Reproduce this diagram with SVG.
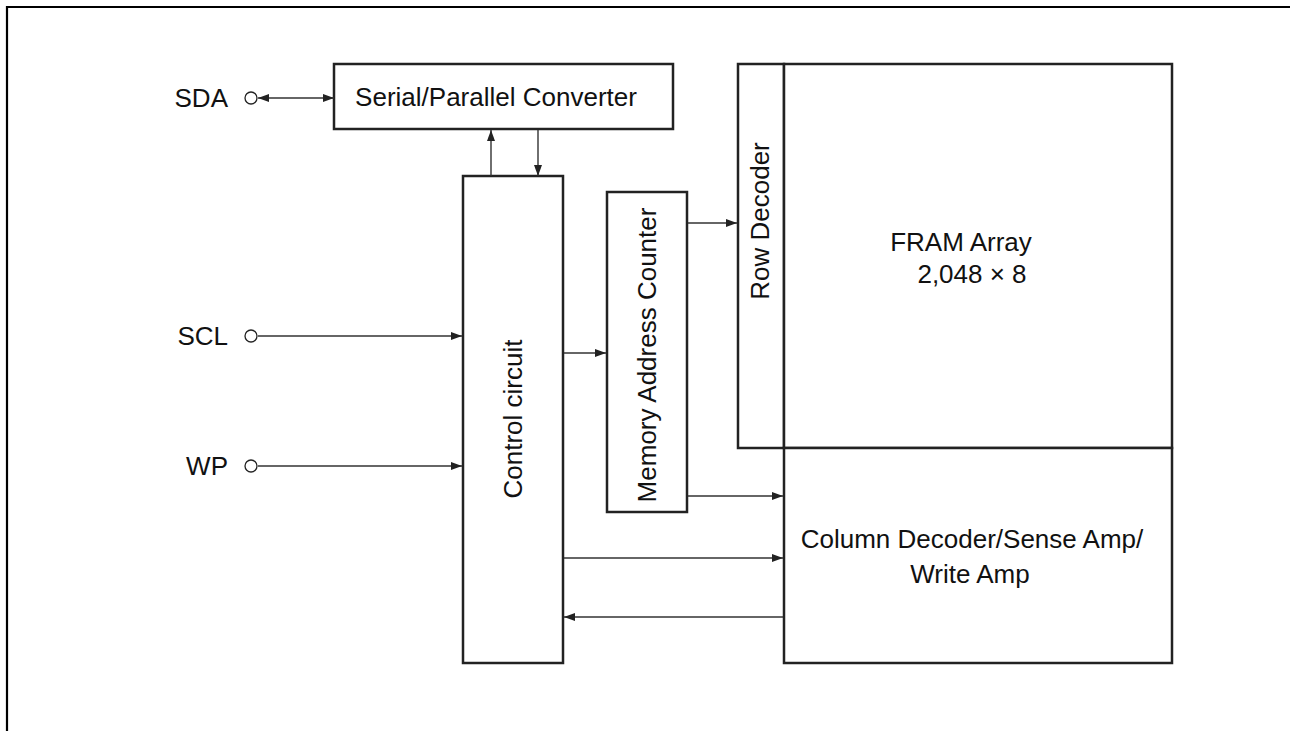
<svg xmlns="http://www.w3.org/2000/svg" width="1290" height="731" viewBox="0 0 1290 731">
<defs>
<marker id="ah" viewBox="0 0 11 8" refX="11" refY="4" markerWidth="11" markerHeight="8" markerUnits="userSpaceOnUse" orient="auto-start-reverse">
<path d="M0,0 L11,4 L0,8 Z" fill="#222"/>
</marker>
</defs>
<style>
.box{fill:#fff;stroke:#222;stroke-width:2.5}
.t{font-family:"Liberation Sans",Arial,sans-serif;font-size:26px;fill:#111}
.c{stroke:#333;stroke-width:1.4;fill:none}
.pin{fill:#fff;stroke:#222;stroke-width:1.3}
</style>
<rect width="1290" height="731" fill="#fff"/>
<path d="M7,731 V7 H1290" fill="none" stroke="#000" stroke-width="2.2"/>

<g id="pin-sda">
<text class="t" x="228" y="107" text-anchor="end">SDA</text>
<circle class="pin" cx="251" cy="98" r="6"/>
</g>
<g id="pin-scl">
<text class="t" x="228" y="345" text-anchor="end">SCL</text>
<circle class="pin" cx="251" cy="336" r="6"/>
</g>
<g id="pin-wp">
<text class="t" x="228" y="475" text-anchor="end">WP</text>
<circle class="pin" cx="251" cy="466" r="6"/>
</g>

<g id="serial-parallel">
<rect class="box" x="334" y="64" width="339" height="65"/>
<text class="t" x="496" y="106" text-anchor="middle">Serial/Parallel Converter</text>
</g>
<g id="control-circuit">
<rect class="box" x="463" y="176" width="100" height="487"/>
<text class="t" transform="translate(522,419) rotate(-90)" text-anchor="middle">Control circuit</text>
</g>
<g id="memory-address-counter">
<rect class="box" x="607" y="192" width="80" height="320"/>
<text class="t" transform="translate(656,355) rotate(-90)" text-anchor="middle">Memory Address Counter</text>
</g>
<g id="row-decoder">
<rect class="box" x="738" y="64" width="46" height="384"/>
<text class="t" transform="translate(769,221) rotate(-90)" text-anchor="middle">Row Decoder</text>
</g>
<g id="fram-array">
<rect class="box" x="784" y="64" width="388" height="384"/>
<text class="t" x="961" y="251" text-anchor="middle">FRAM Array</text>
<text class="t" x="972" y="283" text-anchor="middle">2,048 × 8</text>
</g>
<g id="column-decoder">
<rect class="box" x="784" y="448" width="388" height="215"/>
<text class="t" x="972" y="548" text-anchor="middle">Column Decoder/Sense Amp/</text>
<text class="t" x="970" y="583" text-anchor="middle">Write Amp</text>
</g>

<g id="connectors">
<line class="c" x1="258" y1="98" x2="334" y2="98" marker-start="url(#ah)" marker-end="url(#ah)"/>
<line class="c" x1="491" y1="176" x2="491" y2="130" marker-end="url(#ah)"/>
<line class="c" x1="538" y1="130" x2="538" y2="176" marker-end="url(#ah)"/>
<line class="c" x1="258" y1="336" x2="462" y2="336" marker-end="url(#ah)"/>
<line class="c" x1="258" y1="466" x2="462" y2="466" marker-end="url(#ah)"/>
<line class="c" x1="564" y1="353" x2="606" y2="353" marker-end="url(#ah)"/>
<line class="c" x1="688" y1="223" x2="737" y2="223" marker-end="url(#ah)"/>
<line class="c" x1="688" y1="496" x2="783" y2="496" marker-end="url(#ah)"/>
<line class="c" x1="564" y1="558" x2="783" y2="558" marker-end="url(#ah)"/>
<line class="c" x1="783" y1="617" x2="564" y2="617" marker-end="url(#ah)"/>
</g>
</svg>
